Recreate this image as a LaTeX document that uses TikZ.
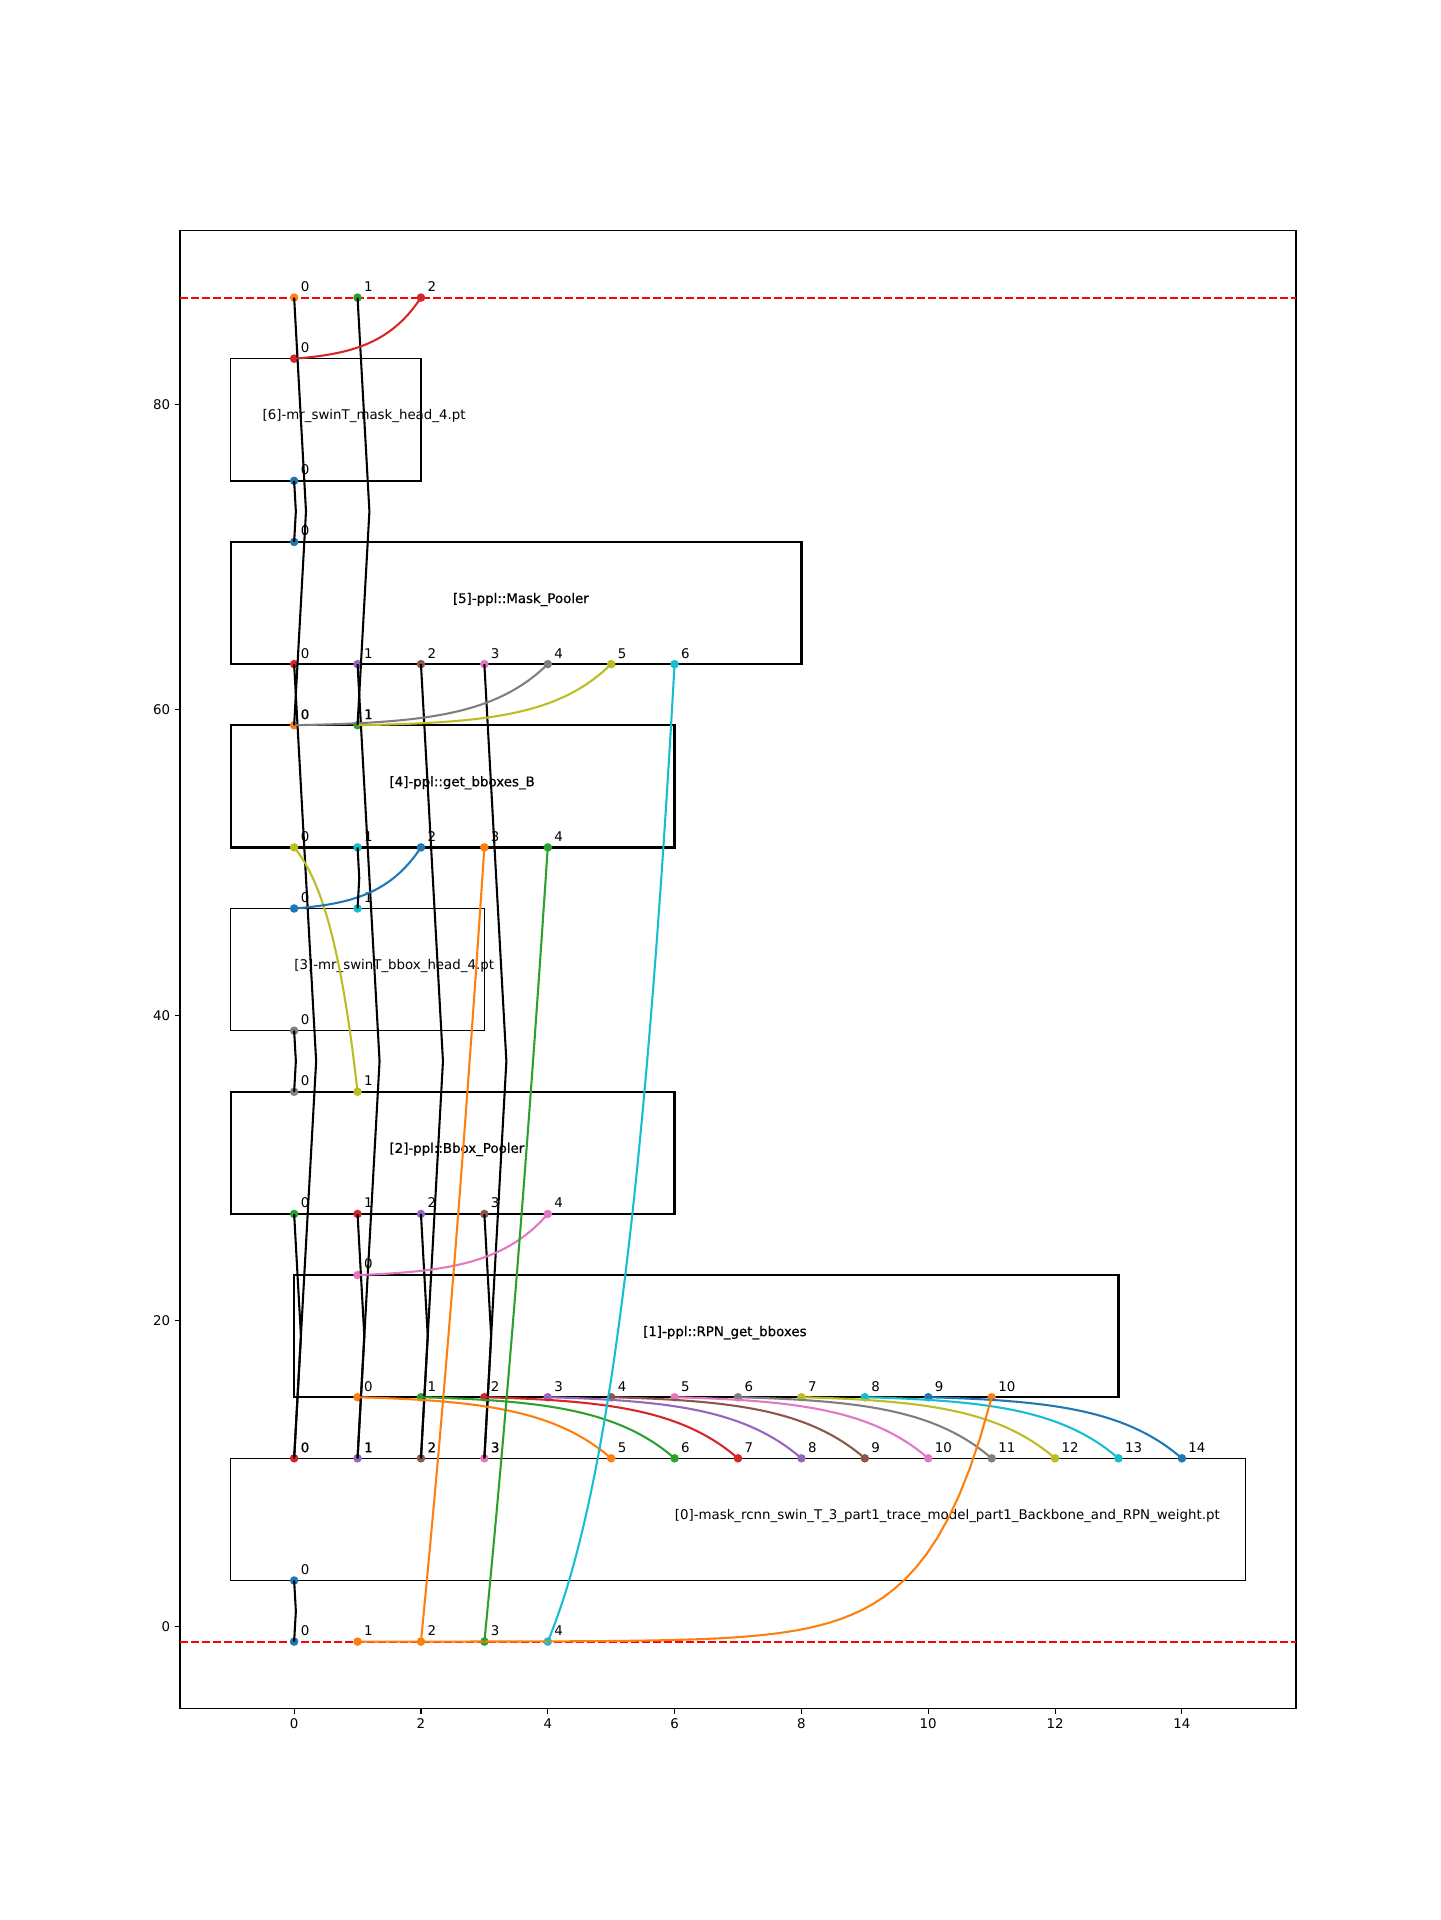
\documentclass[tikz,border=0pt]{standalone}
\usepackage{fontspec}
\setmainfont{DejaVu Sans}
\usetikzlibrary{calc}
\definecolor{C0}{HTML}{1F77B4}
\definecolor{C1}{HTML}{FF7F0E}
\definecolor{C2}{HTML}{2CA02C}
\definecolor{C3}{HTML}{D62728}
\definecolor{C4}{HTML}{9467BD}
\definecolor{C5}{HTML}{8C564B}
\definecolor{C6}{HTML}{E377C2}
\definecolor{C7}{HTML}{7F7F7F}
\definecolor{C8}{HTML}{BCBD22}
\definecolor{C9}{HTML}{17BECF}
\definecolor{pred}{HTML}{FF0000}
\tikzset{
 dot/.style={circle,inner sep=0pt,minimum size=6.2pt,draw=none},
 plab/.style={anchor=base west,inner sep=0pt,font=\fontsize{9.65}{12}\selectfont},
 blab/.style={anchor=base west,inner sep=0pt,font=\fontsize{9.65}{12}\selectfont},
 heavy/.style={font=\fontsize{9.65}{12}\selectfont\addfontfeature{FakeBold=0.6}},
 boxst/.style={draw=black,rectangle,inner sep=0pt,outer sep=0pt},
 conn/.style={line width=1.5pt,line join=round},
 tlab/.style={inner sep=0pt,font=\fontsize{9.65}{12}\selectfont},
 refline/.style={pred,line width=1.5pt,dash pattern=on 5.55pt off 2.4pt},
}
\newcommand\portn[6][]{%
  \node[dot,fill=#5] (#2) at (#3,#4) {};
  \node[plab,#1] (#2-t) at ({#3+0.1},{#4+0.4}) {#6};}
\newcommand\expc[4]{%
  \draw[conn,color=#1] let \p1=(#2.center), \p2=(#3.center) in
    plot[variable=\t,domain=0:1,samples=60]
    ({\x1+(\x2-\x1)*\t},{\y1+(\y2-\y1)*(exp(#4*(\t-1))-exp(-#4))/(1-exp(-#4))});}
\newcommand\passc[3]{%
  \draw[conn,black] (#1.center) -- ($(#1)!0.5!(#2)+(#3,0)$) -- (#2.center);}
\newcommand\boxn[8][]{%
  \node[boxst,line width=#8,minimum width={(#5-#3)*1.61057cm},minimum height={(#6-#4)*0.38793cm}] (#2) at ({(#3+#5)/2},{(#4+#6)/2}) {};
  \node[blab,#1] (#2-t) at ({(#3+#5)/2-1},{(#4+#6)/2}) {#7};}
\begin{document}
\begin{tikzpicture}[x=1.61057cm,y=0.38793cm]
\useasboundingbox (-4.6388,-19.2285) rectangle (18.0713,106.485);
\fill[white] (-4.6388,-19.2285) rectangle (18.0713,106.485);
% axes
\draw[line width=0.8pt] (-1.8,-5.4) rectangle (15.8,91.4);
\foreach \v in {0,2,...,14} {
  \draw[line width=0.8pt] (\v,-5.4) -- ++(0,-3.5pt);
  \node[tlab,anchor=north] (xt\v) at ([yshift=-7pt]\v,-5.4) {\v};}
\foreach \v in {0,20,...,80} {
  \draw[line width=0.8pt] (-1.8,\v) -- ++(-3.5pt,0);
  \node[tlab,anchor=east] (yt\v) at ([xshift=-7pt]-1.8,\v) {\v};}
% boxes
\boxn{b0}{-1}{3}{15}{11}{[0]-mask\_rcnn\_swin\_T\_3\_part1\_trace\_model\_part1\_Backbone\_and\_RPN\_weight.pt}{1.1pt}
\boxn[heavy]{b1}{0}{15}{13}{23}{[1]-ppl::RPN\_get\_bboxes}{1.6pt}
\boxn[heavy]{b2}{-1}{27}{6}{35}{[2]-ppl::Bbox\_Pooler}{1.6pt}
\boxn{b3}{-1}{39}{3}{47}{[3]-mr\_swinT\_bbox\_head\_4.pt}{1.1pt}
\boxn[heavy]{b4}{-1}{51}{6}{59}{[4]-ppl::get\_bboxes\_B}{1.6pt}
\boxn[heavy]{b5}{-1}{63}{8}{71}{[5]-ppl::Mask\_Pooler}{1.6pt}
\boxn{b6}{-1}{75}{2}{83}{[6]-mr\_swinT\_mask\_head\_4.pt}{1.1pt}
% reference lines
\coordinate (rla) at (-1.8,-1); \coordinate (rra) at (15.8,-1);
\coordinate (rlb) at (-1.8,87); \coordinate (rrb) at (15.8,87);
\draw[refline] (rla) -- (rra);
\draw[refline] (rlb) -- (rrb);
% ports
\portn{in0}{0}{-1}{C0}{0}
\portn{in1}{1}{-1}{C1}{1}
\portn{in2}{2}{-1}{C1}{2}
\portn{in3}{3}{-1}{C2}{3}
\portn{in4}{4}{-1}{C9}{4}
\portn{out0}{0}{87}{C1}{0}
\portn{out1}{1}{87}{C2}{1}
\portn{out2}{2}{87}{C3}{2}
\portn{b0i0}{0}{3}{C0}{0}
\foreach \nn/\cc in {0/C3,1/C4,2/C5,3/C6}
  {\portn[heavy]{b0o\nn}{\nn}{11}{\cc}{\nn}}
\foreach \nn/\cc in {5/C1,6/C2,7/C3,8/C4,9/C5,10/C6,11/C7,12/C8,13/C9,14/C0}
  {\portn{b0o\nn}{\nn}{11}{\cc}{\nn}}
\foreach \nn/\cc in {0/C1,1/C2,2/C3,3/C4,4/C5,5/C6,6/C7,7/C8,8/C9,9/C0,10/C1}
  {\pgfmathtruncatemacro\xx{\nn+1}\portn{b1i\nn}{\xx}{15}{\cc}{\nn}}
\portn{b1o0}{1}{23}{C6}{0}
\foreach \nn/\cc in {0/C2,1/C3,2/C4,3/C5,4/C6}
  {\portn{b2i\nn}{\nn}{27}{\cc}{\nn}}
\portn{b2o0}{0}{35}{C7}{0}
\portn{b2o1}{1}{35}{C8}{1}
\portn{b3i0}{0}{39}{C7}{0}
\portn{b3o0}{0}{47}{C0}{0}
\portn{b3o1}{1}{47}{C9}{1}
\foreach \nn/\cc in {0/C8,1/C9,2/C0,3/C1,4/C2}
  {\portn{b4i\nn}{\nn}{51}{\cc}{\nn}}
\portn[heavy]{b4o0}{0}{59}{C1}{0}
\portn[heavy]{b4o1}{1}{59}{C2}{1}
\foreach \nn/\cc in {0/C3,1/C4,2/C5,3/C6,4/C7,5/C8,6/C9}
  {\portn{b5i\nn}{\nn}{63}{\cc}{\nn}}
\portn{b5o0}{0}{71}{C0}{0}
\portn{b6i0}{0}{75}{C0}{0}
\portn{b6o0}{0}{83}{C3}{0}
% connectors
\passc{in0}{b0i0}{0.027}
\foreach \nn in {0,...,3} {\passc{b0o\nn}{b2i\nn}{0.107}\passc{b0o\nn}{b5i\nn}{0.347}}
\foreach \nn/\mm/\cc in {0/5/C1,1/6/C2,2/7/C3,3/8/C4,4/9/C5,5/10/C6,6/11/C7,7/12/C8,8/13/C9,9/14/C0}
  {\expc{\cc}{b1i\nn}{b0o\mm}{3.5}}
\expc{C1}{in1}{b1i10}{10}
\expc{C6}{b1o0}{b2i4}{3.5}
\passc{b2o0}{b3i0}{0.027}
\expc{C8}{b4i0}{b2o1}{2}
\expc{C0}{b3o0}{b4i2}{3}
\passc{b3o1}{b4i1}{0.027}
\expc{C1}{in2}{b4i3}{0.4}
\expc{C2}{in3}{b4i4}{0.4}
\expc{C9}{in4}{b5i6}{2}
\expc{C7}{b4o0}{b5i4}{4}
\expc{C8}{b4o1}{b5i5}{4}
\passc{b4o0}{out0}{0.187}
\passc{b4o1}{out1}{0.187}
\passc{b5o0}{b6i0}{0.027}
\expc{C3}{b6o0}{out2}{3}
\end{tikzpicture}
\end{document}
